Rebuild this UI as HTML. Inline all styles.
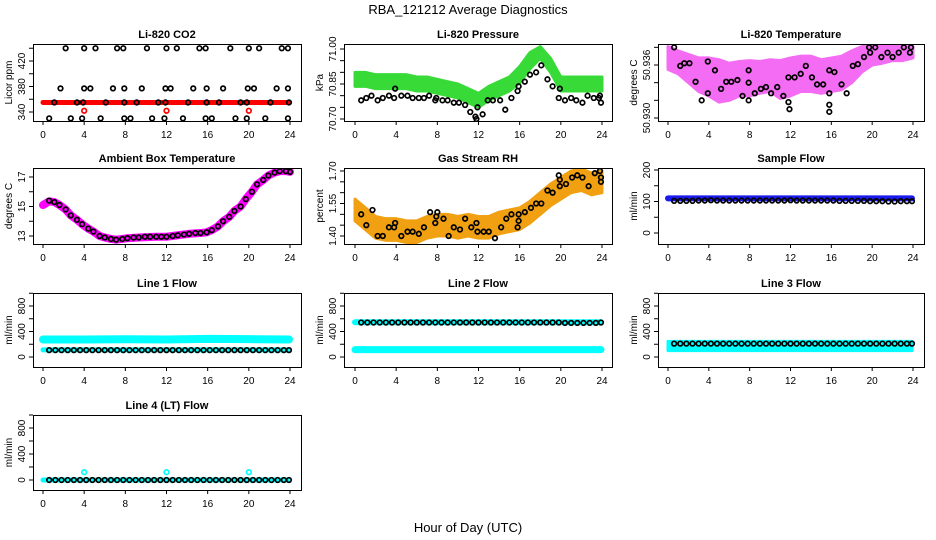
<!DOCTYPE html>
<html><head><meta charset="utf-8"><style>
body{margin:0;background:#fff}
svg{display:block;font-family:"Liberation Sans",Arial,sans-serif}
</style></head><body>
<svg id="fig" width="936" height="540" viewBox="0 0 936 540" xmlns="http://www.w3.org/2000/svg">
<rect width="936" height="540" fill="#fff"/>
<text x="468" y="14" text-anchor="middle" font-size="13">RBA_121212  Average Diagnostics</text>
<text x="468" y="532" text-anchor="middle" font-size="13">Hour of Day (UTC)</text>
</svg>
<script>
// ---------- data ----------
const hours40=[0.6,1.2,1.8,2.4,3,3.6,4.2,4.8,5.4,6,6.6,7.2,7.8,8.4,9,9.6,10.2,10.8,11.4,12,12.6,13.2,13.8,14.4,15,15.6,16.2,16.8,17.4,18,18.6,19.2,19.8,20.4,21,21.6,22.2,22.8,23.4,23.9];
const bandHours=[0,1,2,3,4,5,6,7,8,9,10,11,12,13,14,15,16,17,18,19,20,21,22,23,24];
const flatHours=[0,4,8,12,16,20,23.9];

// CO2
const co2Hours=[2.2,4,5.1,7.2,7.8,10.1,12,13,15.2,15.8,18.2,20,21,23.2,23.8, 1.7,4,4.6,6.8,7.9,9.6,11.9,12.4,14.6,15.9,17.5,19.9,20.5,22.7,23.8, 1.1,3.3,3.9,6.1,7.9,9.1,11.2,11.9,14.1,15.9,17.1,19.2,19.8,22.1,23.9, 0.6,2.7,3.8,5.6,7.9,8.5,10.6,11.8,13.6,15.8,16.4,18.7,19.8,21.6,23.8];
const co2Values=[440,440,440,440,440,440,440,440,440,440,440,440,440,440,440, 377,377,377,377,377,377,377,377,377,377,377,377,377,377,377, 355,355,355,355,355,355,355,355,355,355,355,355,355,355,355, 330,330,330,330,330,330,330,330,330,330,330,330,330,330,330];
const co2RedLine=[355,355,355,355,355,355,355];
const co2RedPtHours=[4,12,20];
const co2RedPtValues=[342,342,342];

// Pressure
const presHours=[0.6,1.1,1.6,2.2,2.7,3.3,3.8,3.9,4.5,5.1,5.6,6.2,6.7,7.2,7.8,7.9,8.5,9,9.6,10.1,10.7,11.2,11.7,11.8,11.9,12.4,12.9,13.4,14.1,14.6,15.2,15.8,15.9,16.5,17,17.6,18.1,18.7,19.2,19.8,19.9,20.4,21,21.5,22.1,22.6,23.2,23.7,23.8,23.9];
const presValues=[70.78,70.79,70.80,70.78,70.79,70.80,70.79,70.83,70.80,70.80,70.79,70.79,70.79,70.80,70.78,70.79,70.78,70.78,70.77,70.77,70.76,70.73,70.71,70.70,70.75,70.72,70.78,70.78,70.78,70.74,70.79,70.82,70.84,70.86,70.89,70.90,70.93,70.87,70.84,70.79,70.83,70.78,70.79,70.78,70.77,70.80,70.79,70.79,70.80,70.77];
const presGreenLo=[70.840,70.840,70.830,70.830,70.830,70.830,70.820,70.820,70.810,70.800,70.790,70.770,70.750,70.780,70.800,70.820,70.855,70.915,70.960,70.900,70.820,70.820,70.820,70.820,70.820];
const presGreenHi=[70.900,70.900,70.890,70.890,70.890,70.890,70.880,70.880,70.870,70.860,70.850,70.830,70.810,70.840,70.860,70.880,70.925,70.985,71.010,70.960,70.880,70.880,70.880,70.880,70.880];

// Li-820 Temperature
const tempHours=[0.6,1.2,1.6,2.1,2.7,3.3,3.9,3.9,4.6,5.2,5.7,6.2,6.8,7.3,7.9,7.9,7.9,8.5,9.1,9.6,10.1,10.7,11.3,11.8,11.9,11.8,12.4,13,13.5,14.1,14.6,15.2,15.8,15.8,15.8,15.8,16.3,17,17.5,18.1,18.6,19.2,19.7,19.8,20.3,20.9,21.5,22,22.6,23.1,23.7,23.8];
const tempValues=[50.9380,50.9359,50.9362,50.9362,50.9341,50.9320,50.9328,50.9364,50.9354,50.9333,50.9341,50.9341,50.9343,50.9325,50.9320,50.9354,50.9340,50.9328,50.9333,50.9335,50.9328,50.9335,50.9325,50.9318,50.9310,50.9346,50.9346,50.9350,50.9359,50.9346,50.9338,50.9338,50.9354,50.9315,50.9307,50.9328,50.9352,50.9338,50.9328,50.9359,50.9361,50.9369,50.9380,50.9374,50.9380,50.9369,50.9374,50.9369,50.9374,50.9380,50.9374,50.9380];
const tempMagLo=[50.9355,50.9350,50.9340,50.9330,50.9325,50.9318,50.9320,50.9325,50.9325,50.9328,50.9330,50.9322,50.9325,50.9330,50.9330,50.9328,50.9330,50.9332,50.9340,50.9352,50.9360,50.9362,50.9365,50.9365,50.9368];
const tempMagHi=[50.9381,50.9376,50.9372,50.9368,50.9368,50.9366,50.9362,50.9364,50.9365,50.9364,50.9366,50.9365,50.9368,50.9370,50.9370,50.9366,50.9368,50.9370,50.9376,50.9381,50.9381,50.9381,50.9381,50.9381,50.9381];

// Ambient box temperature
const ambHours=[0.6,1.1,1.6,2.2,2.7,3.3,3.8,4.4,4.9,5.5,6,6.6,7.1,7.7,8.2,8.8,9.3,9.9,10.4,11,11.5,12,12.6,13.1,13.7,14.2,14.8,15.3,15.9,16.4,17,17.5,18.1,18.6,19.2,19.7,20.3,20.8,21.4,21.9,22.5,23,23.6,24];
const ambValues=[15.4,15.3,15.1,14.8,14.4,14.1,13.8,13.5,13.3,13.0,12.9,12.8,12.75,12.8,12.85,12.9,12.9,12.95,12.95,12.95,12.95,12.95,13.0,13.05,13.1,13.15,13.2,13.2,13.25,13.4,13.65,14.0,14.3,14.7,15.0,15.5,16.0,16.5,16.8,17.1,17.3,17.4,17.4,17.35];
const ambMagHours=[0,0.6,1.1,1.6,2.2,2.7,3.3,3.8,4.4,4.9,5.5,6,6.6,7.1,7.7,8.2,9.3,11,12,13.1,14.2,15.3,15.9,16.4,17,17.5,18.1,18.6,19.2,19.7,20.3,20.8,21.4,21.9,22.5,23,23.6,24];
const ambMagValues=[15.1,15.35,15.3,15.1,14.8,14.4,14.1,13.8,13.5,13.3,13.0,12.9,12.8,12.75,12.8,12.85,12.9,12.95,12.95,13.05,13.15,13.2,13.25,13.4,13.65,14.0,14.3,14.7,15.0,15.5,16.0,16.5,16.8,17.1,17.3,17.4,17.4,17.35];

// Gas stream RH
const rhHours=[0.6,1.1,1.7,2.2,2.7,3.3,3.8,3.9,4.5,5.1,5.6,6.2,6.7,7.3,7.8,7.9,8,8.6,9.1,9.6,10.2,10.7,11.3,11.8,11.9,12.5,13,13.6,14.2,14.7,15.2,15.8,15.9,15.9,16.5,17.1,17.6,18.1,18.7,19.2,19.8,19.9,19.9,20.5,21.1,21.6,22.1,22.7,23.3,23.8,23.9,23.9];
const rhValues=[1.50,1.45,1.52,1.40,1.40,1.44,1.44,1.46,1.40,1.42,1.42,1.41,1.44,1.51,1.46,1.49,1.51,1.48,1.40,1.44,1.43,1.48,1.44,1.46,1.42,1.42,1.42,1.39,1.44,1.48,1.50,1.44,1.47,1.50,1.51,1.53,1.55,1.55,1.61,1.60,1.68,1.63,1.66,1.64,1.67,1.68,1.67,1.63,1.69,1.70,1.65,1.67];
const rhBandLo=[1.47,1.43,1.39,1.38,1.38,1.37,1.37,1.39,1.40,1.40,1.39,1.40,1.39,1.39,1.41,1.42,1.43,1.46,1.50,1.54,1.57,1.60,1.61,1.59,1.60];
const rhBandHi=[1.57,1.53,1.49,1.48,1.48,1.47,1.47,1.49,1.50,1.50,1.49,1.50,1.49,1.49,1.51,1.52,1.53,1.56,1.60,1.64,1.67,1.70,1.71,1.69,1.70];

// Flows
const sampleBlack=[102,102,102,102,103,103,104,103,103,103,103,103,103,103,103,103,103,103,103,104,103,103,103,103,103,103,103,102,102,102,102,102,101,101,101,100,100,101,101,101];
const sampleBlue=[110,110,110,110,110,110,110];
const line1Black=[108,108,108,108,108,108,108,108,108,108,108,108,108,108,108,108,108,108,108,108,108,108,108,108,108,108,108,108,108,108,108,108,108,108,108,108,108,108,108,108];
const line1CyanHi=[275,275,278,275,285,280,275];
const line1CyanLo=[112,112,112,112,112,112,112];
const line2Black=[541,541,541,541,541,541,541,541,541,541,541,541,541,541,541,541,541,541,541,541,541,541,541,541,541,541,541,541,541,541,541,541,541,535,535,535,535,535,535,541];
const line2CyanHi=[545,545,545,545,545,545,545];
const line2CyanLo=[115,115,115,115,115,115,115];
const line3Black=[210,210,210,210,210,210,210,210,210,210,210,210,210,210,210,210,210,210,210,210,210,210,210,210,210,210,210,210,210,210,210,210,210,210,210,210,210,210,210,210];
const line3CyanLo=[100,100,100,100,100,100,100];
const line3CyanHi=[245,245,245,245,245,245,245];
const line4Black=[0,0,0,0,0,0,0,0,0,0,0,0,0,0,0,0,0,0,0,0,0,0,0,0,0,0,0,0,0,0,0,0,0,0,0,0,0,0,0,0];
const line4Cyan=[0,0,0,0,0,0,0];
const line4CyanPtHours=[4,12,20];
const line4CyanPtValues=[120,120,120];

const xTicks=[0,4,8,12,16,20,24];

// ---------- layout ----------
const NS="http://www.w3.org/2000/svg";
const svg=document.getElementById('fig');
const cols=[{b0:33,b1:301,h0:43,h24:290},{b0:344,b1:612,h0:355,h24:602},{b0:658,b1:924,h0:668,h24:913}];
const rows=[{t:44,b:121},{t:168,b:244},{t:293,b:367},{t:415,b:490}];
function el(tag,attrs,parent){const e=document.createElementNS(NS,tag);for(const k in attrs)e.setAttribute(k,attrs[k]);(parent||svg).appendChild(e);return e;}

function makePanel(name,title,ylab,ci,ri,v0,p0,v1,p1,yTicks,yLabels){
  const c=cols[ci],r=rows[ri];
  const g=el('g',{});
  
  
  const xs=h=>c.h0+(h/24)*(c.h24-c.h0);
  const ys=v=>p0+(v-v0)*(p1-p0)/(v1-v0);
  const t=el('text',{x:(c.b0+c.b1)/2,y:r.t-6,'text-anchor':'middle','font-size':11,'font-weight':'bold'},g);
  t.textContent=title;
  
  
  const yl=el('text',{transform:`translate(${c.b0-21},${(r.t+r.b)/2}) rotate(-90)`,'text-anchor':'middle','font-size':10},g);
  yl.textContent=ylab;
  
  
  const ax=el('g',{stroke:'#000','stroke-width':1},g);
  
  
  xTicks.forEach(h=>{
    el('line',{x1:xs(h),x2:xs(h),y1:r.b,y2:r.b+4},ax);
    const tl=el('text',{x:xs(h),y:r.b+17,'text-anchor':'middle','font-size':10,stroke:'none'},g);
    tl.textContent=h;
    
    
  });
  el('line',{x1:xs(0),x2:xs(24),y1:r.b+0.5,y2:r.b+0.5},ax);
  yTicks.forEach((v,i)=>{
    el('line',{x1:c.b0-4,x2:c.b0,y1:ys(v),y2:ys(v)},ax);
    if(yLabels[i]!==''){
      const tl=el('text',{transform:`translate(${c.b0-8},${ys(v)}) rotate(-90)`,'text-anchor':'middle','font-size':10},g);
      tl.textContent=yLabels[i];
      
      
    }
  });
  const plot=el('g',{},g);
  const cp='clip-'+name;
  const cpe=el('clipPath',{id:cp},g);el('rect',{x:c.b0,y:r.t,width:c.b1-c.b0,height:r.b-r.t},cpe);
  plot.setAttribute('clip-path',`url(#${cp})`);
  el('rect',{x:c.b0+0.5,y:r.t+0.5,width:c.b1-c.b0,height:r.b-r.t,fill:'none',stroke:'#000'},g);
  return {xs,ys,plot,name};
}
function band(P,hs,lo,hi,color,nm,op){
  let d='M'+hs.map((h,i)=>P.xs(h)+','+P.ys(hi[i])).join('L');
  for(let i=hs.length-1;i>=0;i--)d+='L'+P.xs(hs[i])+','+P.ys(lo[i]);
  const p=el('path',{d:d+'Z',fill:color,stroke:color,'stroke-width':3,'stroke-linejoin':'round',opacity:op||1},P.plot);
  
  
}
function thick(P,hs,vs,color,w,nm){
  const p=el('path',{d:'M'+hs.map((h,i)=>P.xs(h)+','+P.ys(vs[i])).join('L'),fill:'none',stroke:color,'stroke-width':w,'stroke-linecap':'round','stroke-linejoin':'round'},P.plot);
  
  
}
function pts(P,hs,vs,color,nm){
  const g=el('g',{fill:'none',stroke:color,'stroke-width':1.7},P.plot);
  
  
  hs.forEach((h,i)=>{
    const c=el('circle',{cx:P.xs(h),cy:P.ys(vs[i]),r:2.3},g);
    
    
  });
}

// Panels
let P=makePanel('co2','Li-820 CO2','Licor ppm',0,0,340,112,420,61,[340,360,380,400,420,440],['340','','380','','420','']);
thick(P,flatHours,co2RedLine,'#f00',5,'red-series');
pts(P,co2RedPtHours,co2RedPtValues,'#f00','red-points');
pts(P,co2Hours,co2Values,'#000','black-points');

P=makePanel('pressure','Li-820 Pressure','kPa',1,0,70.70,119,71.00,49,[70.70,70.75,70.80,70.85,70.90,70.95,71.00],['70.70','','','70.85','','','71.00']);
band(P,bandHours,presGreenLo,presGreenHi,'#22d622','green-series',0.9);
pts(P,presHours,presValues,'#000','black-points');

P=makePanel('temperature','Li-820 Temperature','degrees C',2,0,50.930,118,50.936,65,[50.930,50.932,50.934,50.936,50.938],['50.930','','','50.936','']);
band(P,bandHours,tempMagLo,tempMagHi,'#f03cf0','magenta-series',0.75);
pts(P,tempHours,tempValues,'#000','black-points');

P=makePanel('ambient','Ambient Box Temperature','degrees C',0,1,13,236,17,177,[13,14,15,16,17],['13','','15','','17']);
thick(P,ambMagHours,ambMagValues,'#f0f',8,'magenta-series');
pts(P,ambHours,ambValues,'#000','black-points');

P=makePanel('rh','Gas Stream RH','percent',1,1,1.40,236,1.70,171,[1.40,1.45,1.50,1.55,1.60,1.65,1.70],['1.40','','','1.55','','','1.70']);
band(P,bandHours,rhBandLo,rhBandHi,'#f0a010','orange-series');
pts(P,rhHours,rhValues,'#000','black-points');

P=makePanel('sample-flow','Sample Flow','ml/min',2,1,0,233,200,170,[0,50,100,150,200],['0','','100','','200']);
thick(P,flatHours,sampleBlue,'#1a1aee',6,'blue-series');
pts(P,hours40,sampleBlack,'#000','black-points');

const fTicks=[0,200,400,600,800,1000],fLabels=['0','','400','','800',''];
P=makePanel('line1','Line 1 Flow','ml/min',0,2,0,357,800,306,fTicks,fLabels);
thick(P,flatHours,line1CyanHi,'#0ff',8,'cyan-upper');
thick(P,flatHours,line1CyanLo,'#0ff',5,'cyan-lower');
pts(P,hours40,line1Black,'#000','black-points');

P=makePanel('line2','Line 2 Flow','ml/min',1,2,0,357,800,306,fTicks,fLabels);
thick(P,flatHours,line2CyanHi,'#0ff',6,'cyan-upper');
thick(P,flatHours,line2CyanLo,'#0ff',7,'cyan-lower');
pts(P,hours40,line2Black,'#000','black-points');

P=makePanel('line3','Line 3 Flow','ml/min',2,2,0,357,800,306,fTicks,fLabels);
band(P,flatHours,line3CyanLo,line3CyanHi,'#0ff','cyan-series');
pts(P,hours40,line3Black,'#000','black-points');

P=makePanel('line4','Line 4 (LT) Flow','ml/min',0,3,0,480,800,428,fTicks,fLabels);
thick(P,flatHours,line4Cyan,'#0ff',5,'cyan-series');
pts(P,line4CyanPtHours,line4CyanPtValues,'#0ff','cyan-points');
pts(P,hours40,line4Black,'#000','black-points');
</script>
</body></html>
